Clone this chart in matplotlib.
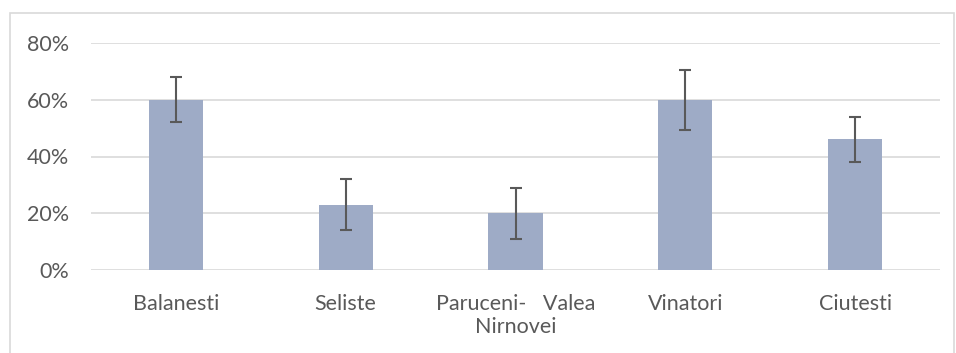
import matplotlib.pyplot as plt
from matplotlib.patches import Rectangle
from matplotlib.ticker import PercentFormatter

# data
sites = ["Balanesti", "Seliste", "Paruceni-   Valea\nNirnovei", "Vinatori", "Ciutesti"]
values = [60, 23, 20, 60, 46]
errors = [8, 9, 9, 10.5, 8]
yticks = [0, 20, 40, 60, 80]

plt.rcParams['font.family'] = ['Lato', 'DejaVu Sans']
text_col = '#595959'

fig = plt.figure(figsize=(9.56, 3.53), dpi=100)
W, H = 956, 353
ax = fig.add_axes([91 / W, 1 - 270 / H, (940 - 91) / W, (270 - 43) / H])

# outer chart border
fig.patches.append(Rectangle((10 / W, -0.05), 944 / W, 1 - 13 / H + 0.05,
                             transform=fig.transFigure, fill=False,
                             edgecolor='#D9D9D9', linewidth=1.2))

x = range(len(sites))
ax.bar(x, values, width=0.32, color='#9EABC6', zorder=2)
ax.errorbar(x, values, yerr=errors, fmt='none', ecolor='#595959',
            elinewidth=1.5, capsize=4.3, capthick=1.5, zorder=3)

ax.set_xlim(-0.5, len(sites) - 0.5)
ax.set_ylim(0, 80)
ax.set_yticks(yticks)
ax.yaxis.set_major_formatter(PercentFormatter(decimals=0))
ax.grid(axis='y', color='#D9D9D9', linewidth=1.2, zorder=0)
for s in ax.spines.values():
    s.set_visible(False)
ax.tick_params(length=0, labelsize=15.5, colors=text_col)
ax.tick_params(axis='y', pad=16)
ax.tick_params(axis='x', pad=17)
ax.set_xticks(list(x))
ax.set_xticklabels(sites, linespacing=1.2)

fig.savefig('out.png', dpi=100)
